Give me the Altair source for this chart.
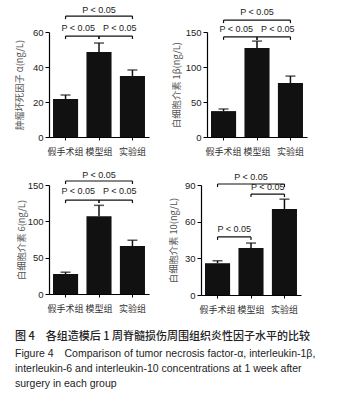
import altair as alt
import pandas as pd

CJK = "Noto Sans CJK SC"
LAT = "Liberation Sans"

groups = ["假手术组", "模型组", "实验组"]

tnf_mean = [21.7, 48.6, 34.9]
tnf_err = [2.3, 5.1, 3.4]
il1_mean = [37, 127, 77]
il1_err = [3, 10, 10]
il6_mean = [27.5, 107, 66]
il6_err = [2.5, 15, 8]
il10_mean = [26, 38.5, 70.4]
il10_err = [2, 4, 8]

titles = ["肿瘤坏死因子 α(ng/L)", "白细胞介素 1β(ng/L)", "白细胞介素 6(ng/L)", "白细胞介素 10(ng/L)"]
ymaxes = [60, 150, 150, 90]
ysteps = [20, 50, 50, 30]

# brackets: (from index, to index, bracket level, label level)
tnf_br = [(0, 2, 69.1, 72.6), (0, 1, 57.7, 62.3), (1, 2, 57.7, 62.3)]
il1_br = [(0, 2, 167, 178.6), (0, 1, 143, 154), (1, 2, 143, 154)]
il6_br = [(0, 2, 155.5, 163.7), (0, 1, 129.3, 141.7), (1, 2, 129.3, 141.7)]
il10_br = [(0, 2, 90.8, 96.5), (1, 2, 82.6, 88.4), (0, 1, 47.5, 54)]
p_label = "P < 0.05"

caption_cn = "图 4　各组造模后 1 周脊髓损伤周围组织炎性因子水平的比较"
caption_en = [
    "Figure 4　Comparison of tumor necrosis factor-α, interleukin-1β,",
    "interleukin-6 and interleukin-10 concentrations at 1 week after",
    "surgery in each group",
]

PI, PO = 0.25, 0.12
W = 100
INK = "#111"


def panel(means, errs, ymax, ystep, ytitle, brackets, h, tx, spread):
    step = W / (3 - PI + 2 * PO)
    df = pd.DataFrame({"g": groups, "m": means,
                       "hi": [m + e for m, e in zip(means, errs)]})
    tick_len = 3.0 * ymax / h
    br_rows, tk_rows, tx_rows = [], [], []
    for a, b, yl, ylab in brackets:
        br_rows.append({"f": groups[a], "t": groups[b], "y": yl})
        for idx in (a, b):
            tk_rows.append({"c": groups[idx], "y": yl, "y0": yl - tick_len})
        if (b - a) % 2 == 0:
            tx_rows.append({"c": groups[(a + b) // 2], "y": ylab, "shift": 0, "lab": p_label})
        else:
            tx_rows.append({"c": groups[a], "y": ylab, "shift": 1 + a, "lab": p_label})
    brd = pd.DataFrame(br_rows)
    tkd = pd.DataFrame(tk_rows)
    txd = pd.DataFrame(tx_rows)

    xs = alt.Scale(domain=groups, paddingInner=PI, paddingOuter=PO)
    xa = alt.Axis(title=None, labelAngle=0, labelFont=CJK, labelFontSize=9,
                  labelColor="#333", tickSize=3, domainColor="#000", tickColor="#000",
                  labelPadding=7, domainWidth=1.2)
    ys = alt.Scale(domain=[0, ymax], nice=False)
    ya = alt.Axis(values=list(range(0, ymax + 1, ystep)), title=ytitle, titleFont=CJK,
                  titleFontSize=9.3, titleFontWeight="normal", titleColor="#555",
                  titleX=tx, titleY=h / 2, titleAngle=270, titleAlign="center",
                  titleBaseline="middle", labelFont=LAT, labelFontSize=9.5,
                  labelColor="#222", tickSize=4, grid=False, domainColor="#000",
                  tickColor="#000", labelPadding=2, domainWidth=1.2)

    def X(f):
        return alt.X(f, type="nominal", sort=groups, scale=xs, axis=xa)

    def Y(f):
        return alt.Y(f, type="quantitative", scale=ys, axis=ya)

    bars = alt.Chart(df).mark_bar(color=INK).encode(x=X("g"), y=Y("m"))
    err = alt.Chart(df).mark_rule(strokeWidth=1.5, color=INK).encode(
        x=X("g"), y=Y("m"), y2="hi")
    cap = alt.Chart(df).mark_tick(size=10, thickness=1.5, color=INK).encode(
        x=X("g"), y=Y("hi"))
    br = alt.Chart(brd).mark_rule(strokeWidth=1.2, color=INK).encode(
        x=X("f"), x2="t", y=Y("y"))
    tk = alt.Chart(tkd).mark_rule(strokeWidth=1.2, color=INK).encode(
        x=X("c"), y=Y("y"), y2="y0")
    layers = [bars, err, cap, br, tk]
    txt_style = dict(font=LAT, fontSize=9, color="#222", baseline="middle")
    for s, dx in ((0, 0), (1, step / 2 - spread), (2, step / 2 + spread)):
        layers.append(
            alt.Chart(txd).transform_filter(f"datum.shift == {s}")
            .mark_text(dx=dx, **txt_style)
            .encode(x=X("c"), y=Y("y"), text="lab"))
    return alt.layer(*layers).properties(width=W, height=h)


p1 = panel(tnf_mean, tnf_err, ymaxes[0], ysteps[0], titles[0], tnf_br, 105, -30, 4)
p2 = panel(il1_mean, il1_err, ymaxes[1], ysteps[1], titles[1], il1_br, 105, -31, 4)
p3 = panel(il6_mean, il6_err, ymaxes[2], ysteps[2], titles[2], il6_br, 109, -28, 4)
p4 = panel(il10_mean, il10_err, ymaxes[3], ysteps[3], titles[3], il10_br, 110, -28, 0)

row1 = alt.hconcat(p1, p2, spacing=23)
row2 = alt.hconcat(p3, p4, spacing=20)

chart = alt.vconcat(row1, row2, spacing=15).properties(
    title=alt.TitleParams(
        text=caption_cn, subtitle=caption_en, orient="bottom", anchor="start",
        font=CJK, fontSize=11, fontWeight=500, color="#222",
        subtitleFont=LAT, subtitleFontSize=10.5, subtitleColor="#222",
        subtitleLineHeight=15, subtitlePadding=7, offset=17),
    padding={"left": 15, "top": 5, "right": 0, "bottom": 0},
).configure_view(stroke=None)

chart.save("out.html", embed_options={"renderer": "svg", "actions": False})
